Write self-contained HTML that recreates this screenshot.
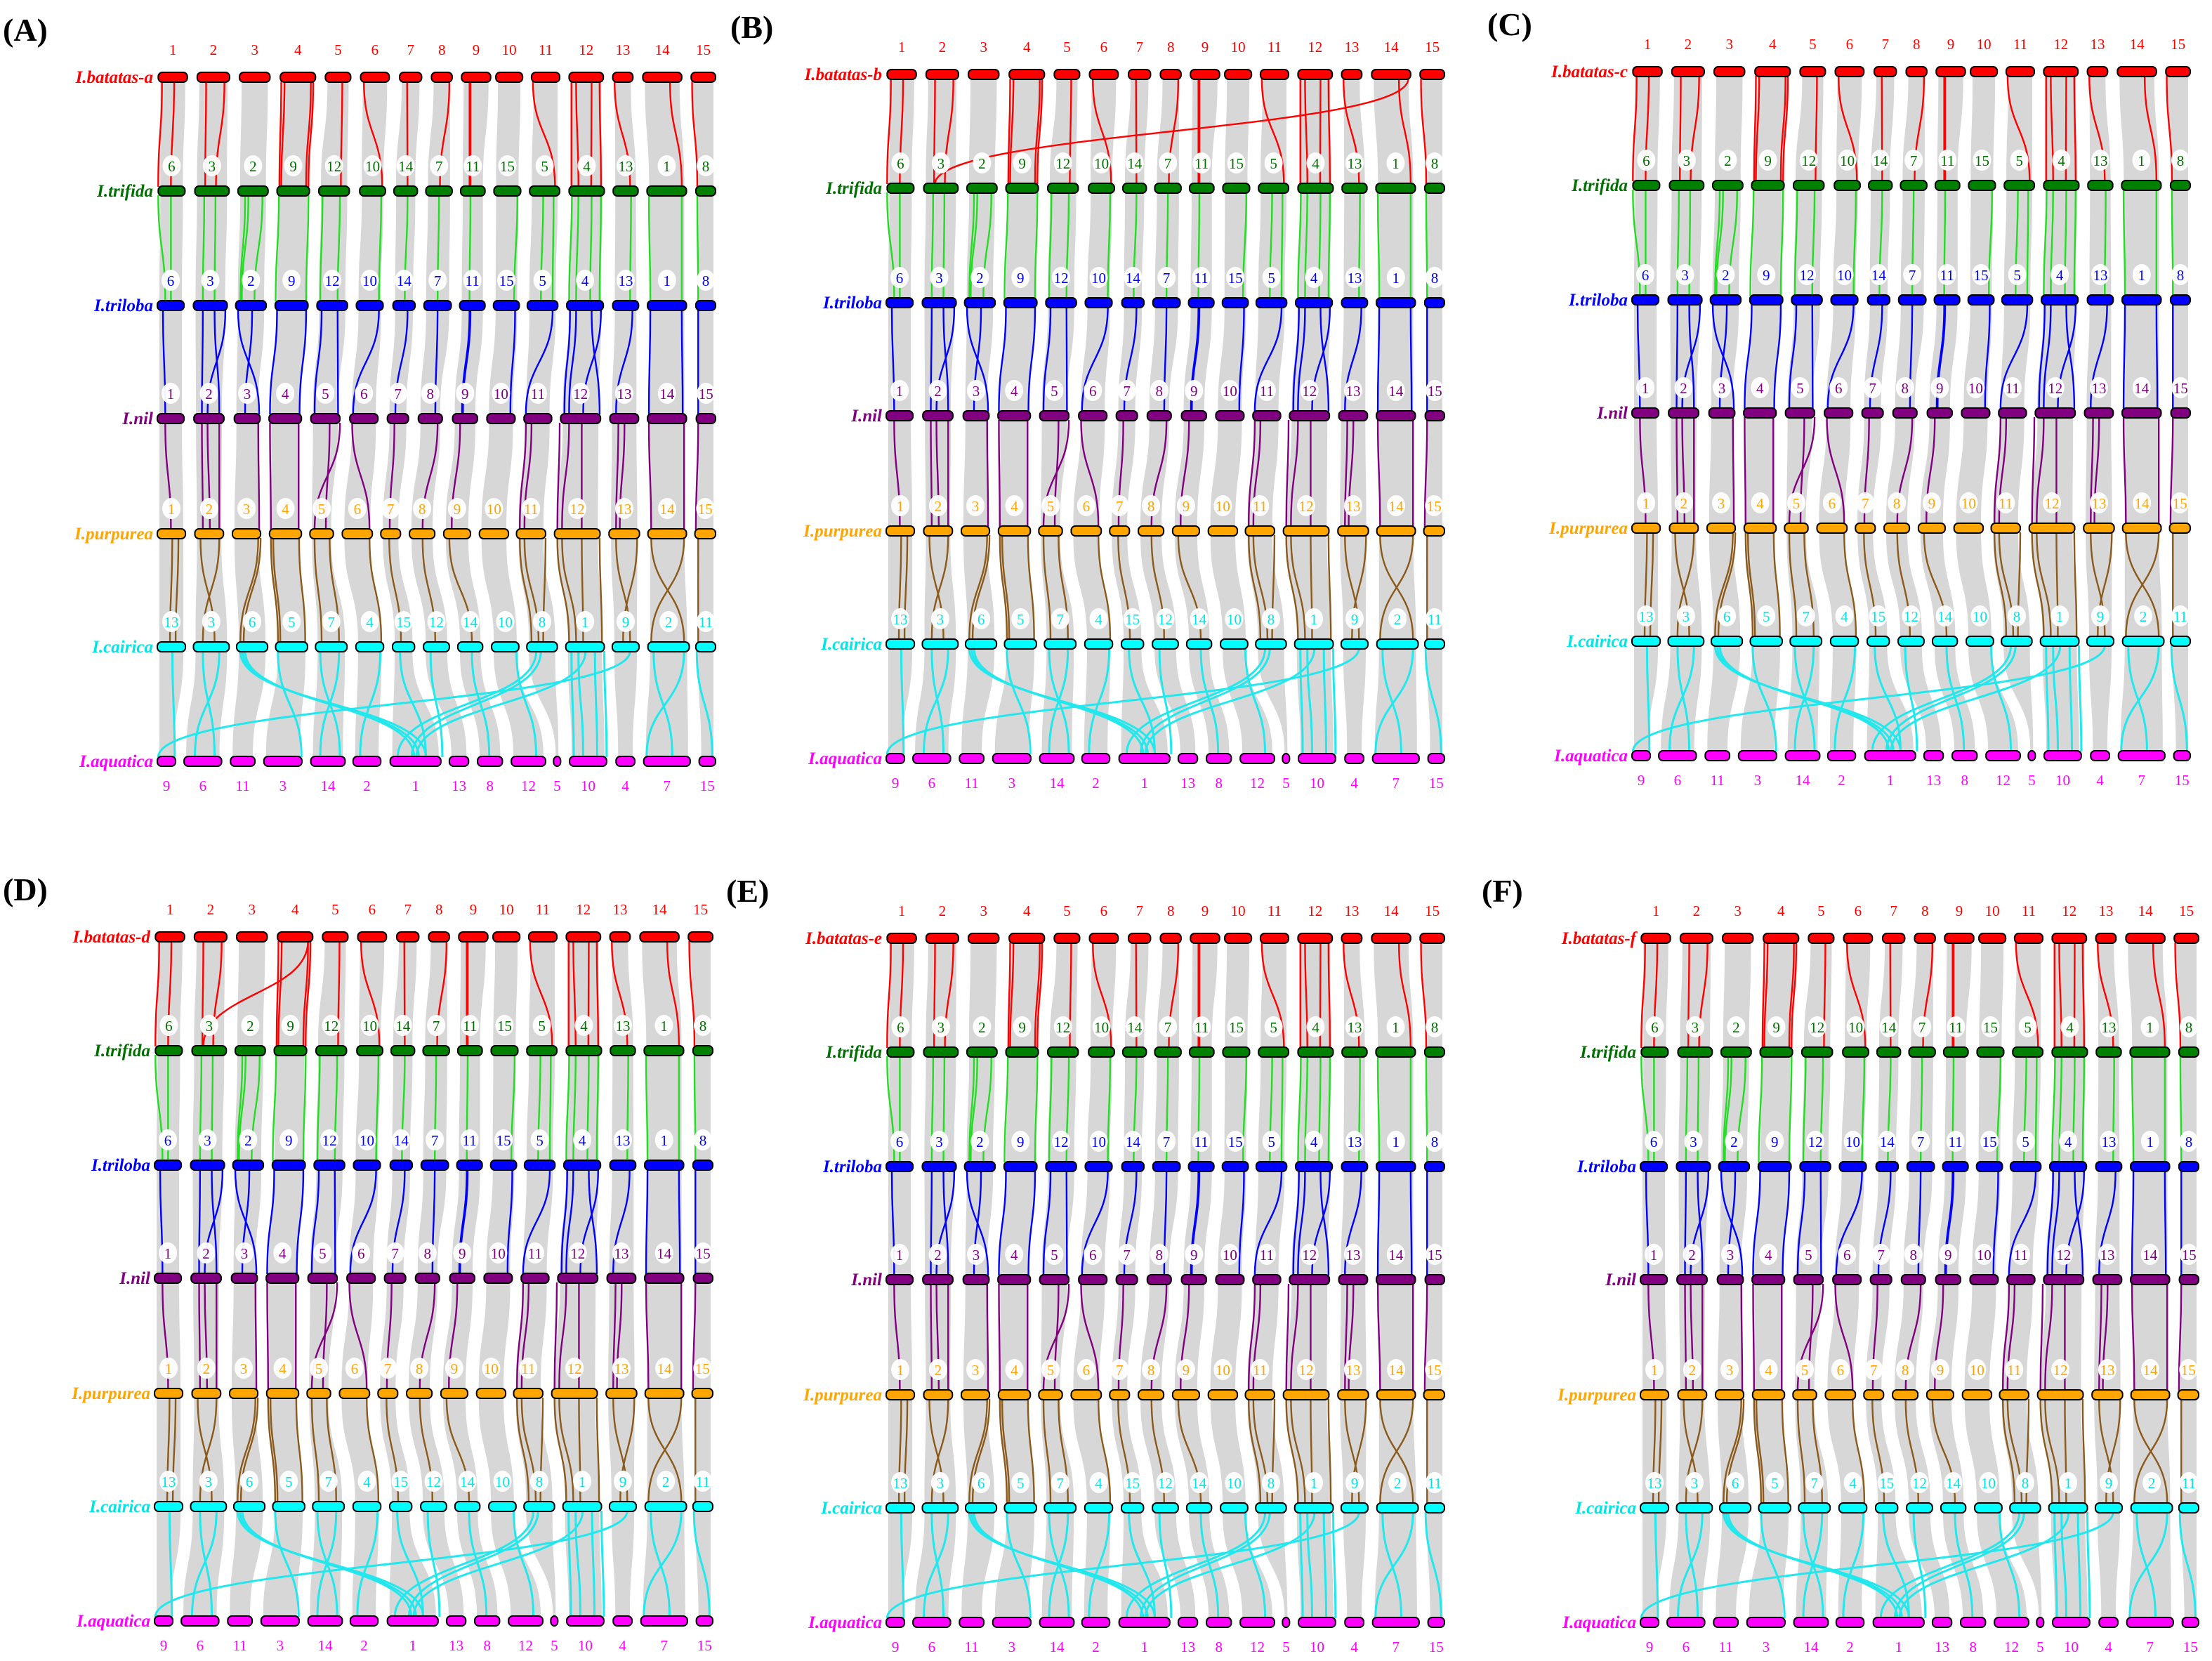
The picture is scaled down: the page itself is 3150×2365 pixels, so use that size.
<!DOCTYPE html>
<html><head><meta charset="utf-8">
<style>
html,body{margin:0;padding:0;background:#fff;}
svg{display:block;}
text{font-family:"Liberation Serif",serif;}
</style></head>
<body>
<svg id="fig" width="3150" height="2365" viewBox="0 0 3150 2365" xmlns="http://www.w3.org/2000/svg"></svg>
<script>
// ---- data ----
const genomes = ["I.batatas","I.trifida","I.triloba","I.nil","I.purpurea","I.cairica","I.aquatica"];
const genomeColors = ["#ff0000","#008000","#0000ff","#800080","#ffa500","#00ffff","#ff00ff"];
const labelColors = ["#ff0000","#007000","#0000ff","#800080","#ffa500","#00e5e5","#ff00ff"];
const lineColors = ["#ff0000","#22dd22","#0000ff","#800080","#8b5a1a","#22e8ee"];
const chromNames = [
 [1,2,3,4,5,6,7,8,9,10,11,12,13,14,15],
 [6,3,2,9,12,10,14,7,11,15,5,4,13,1,8],
 [6,3,2,9,12,10,14,7,11,15,5,4,13,1,8],
 [1,2,3,4,5,6,7,8,9,10,11,12,13,14,15],
 [1,2,3,4,5,6,7,8,9,10,11,12,13,14,15],
 [13,3,6,5,7,4,15,12,14,10,8,1,9,2,11],
 [9,6,11,3,14,2,1,13,8,12,5,10,4,7,15]
];
// chromosome spans in genome-coordinate units (start,end)
const chromSpans = [
 [[335,397],[418,487],[508,573],[595,670],[691,745],[766,827],[849,896],[917,961],[981,1043],[1054,1111],[1130,1190],[1210,1283],[1303,1346],[1367,1450],[1470,1522]],
 [[335,392],[413,486],[505,569],[588,657],[677,742],[764,819],[837,887],[905,961],[979,1031],[1050,1107],[1126,1190],[1210,1285],[1304,1357],[1376,1460],[1480,1522]],
 [[333,390],[410,482],[500,565],[584,654],[673,738],[757,814],[835,882],[901,959],[977,1031],[1049,1104],[1121,1186],[1205,1283],[1303,1358],[1377,1460],[1480,1522]],
 [[333,390],[411,475],[497,552],[571,640],[660,722],[743,803],[823,868],[889,940],[962,1015],[1035,1095],[1114,1173],[1192,1277],[1297,1358],[1377,1460],[1481,1522]],
 [[333,393],[413,474],[493,553],[572,640],[658,708],[727,791],[809,851],[870,924],[943,1000],[1019,1081],[1098,1160],[1179,1276],[1295,1360],[1378,1460],[1478,1522]],
 [[333,393],[410,486],[502,568],[585,653],[670,737],[756,815],[834,881],[900,955],[973,1026],[1045,1103],[1120,1185],[1203,1285],[1302,1359],[1378,1466],[1480,1522]],
 [[333,372],[390,470],[489,541],[560,641],[660,733],[750,809],[829,937],[955,996],[1015,1068],[1087,1160],[1177,1192],[1211,1290],[1310,1350],[1369,1468],[1487,1522]]
];
// highlighted syntenic links between consecutive genomes [fromX, toX]
const links0 = [[343,335],[369,362],[437,435],[476,458],[597,593],[604,597],[665,655],[660,650],[727,724],[773,812],[865,866],[955,935],[998,998],[1000,1000],[1133,1180],[1215,1215],[1225,1230],[1258,1257],[1275,1278],[1307,1340],[1425,1450],[1472,1483]];
const links1 = [[335,350],[362,362],[433,430],[457,455],[520,510],[527,513],[557,540],[592,585],[655,650],[685,680],[722,717],[810,805],[866,860],[933,930],[1000,998],[1100,1093],[1155,1150],[1177,1175],[1216,1210],[1230,1225],[1258,1255],[1278,1275],[1342,1340],[1380,1383],[1450,1450],[1483,1485]];
const links2 = [[345,350],[430,428],[455,465],[478,440],[505,550],[535,520],[588,573],[650,636],[683,668],[717,718],[805,750],[866,840],[930,925],[998,982],[1000,984],[1095,1085],[1175,1118],[1212,1200],[1225,1210],[1258,1275],[1278,1240],[1345,1310],[1383,1380],[1450,1452],[1485,1485]];
const links3 = [[350,362],[428,430],[440,445],[465,465],[548,550],[573,575],[634,634],[722,668],[700,692],[748,785],[838,828],[930,898],[978,960],[1118,1105],[1130,1115],[1190,1185],[1210,1195],[1237,1237],[1328,1318],[1315,1310],[1380,1385],[1455,1455],[1485,1480]];
const links4 = [[365,360],[378,372],[425,455],[465,430],[548,510],[553,517],[575,590],[580,595],[635,648],[668,683],[700,720],[785,810],[827,852],[898,925],[955,1003],[1105,1130],[1115,1145],[1160,1155],[1185,1210],[1195,1225],[1237,1240],[1275,1280],[1310,1340],[1355,1325],[1385,1455],[1455,1385],[1485,1485]];
const links5 = [[365,370],[430,455],[465,413],[510,905],[515,890],[520,880],[590,640],[680,722],[720,680],[808,765],[850,905],[915,940],[1003,1040],[1098,1140],[1140,845],[1150,875],[1215,1220],[1230,1240],[1245,885],[1265,1270],[1285,1290],[1340,335],[1390,1430],[1455,1375],[1482,1515]];
const allLinks = [links0,links1,links2,links3,links4,links5];
// panel-specific extra red links (from batatas to trifida)
const extraB = [[1445,437]];
const extraD = [[660,437]];
const panelLetters = ["A","B","C","D","E","F"];
const panelSuffix = ["a","b","c","d","e","f"];

// ---- layout ----
const panelsLayout = [
 {px:224,py:0,lx:4},{px:1262,py:-4,lx:1040},{px:2324,py:-8,lx:2118},
 {px:220,py:1224,lx:4},{px:1262,py:1226,lx:1034},{px:2336,py:1226,lx:2110}
];
const rowY = [110,272,435,596,760,921,1084];
const U0 = 333, U1 = 1522, W = 795;
const NS = "http://www.w3.org/2000/svg";
const svg = document.getElementById("fig");
function mk(tag, attrs, parent){
  const e = document.createElementNS(NS, tag);
  for (const k in attrs) e.setAttribute(k, attrs[k]);
  (parent||svg).appendChild(e);
  return e;
}
function curve(x1,y1,x2,y2){
  const m=(y1+y2)/2;
  return `M${x1},${y1} C${x1},${m} ${x2},${m} ${x2},${y2}`;
}

panelLetters.forEach((L, p) => {
  const lay = panelsLayout[p];
  const xs = u => lay.px + (u - U0) * W / (U1 - U0);
  const ys = r => rowY[r] + lay.py;
  const g = mk("g", {});
  
  

  // panel letter
  const pl = mk("text", {x: lay.lx, y: ys(0) - 52, "font-size": 46, "font-weight": "bold", fill: "#000"}, g);
  pl.textContent = "(" + L + ")";
  
  

  // gray ribbons
  const rib = mk("g", {fill: "#d4d4d4", opacity: "0.92"}, g);
  
  
  for (let r = 0; r < 6; r++) {
    for (let i = 0; i < 15; i++) {
      const a = chromSpans[r][i], b = chromSpans[r+1][i];
      const y1 = ys(r) + 7, y2 = ys(r+1) - 7, m = (y1 + y2) / 2;
      const ax1 = xs(a[0]) + 3, ax2 = xs(a[1]) - 3, bx1 = xs(b[0]) + 3, bx2 = xs(b[1]) - 3;
      const d = `M${ax1},${y1} C${ax1},${m} ${bx1},${m} ${bx1},${y2} L${bx2},${y2} C${bx2},${m} ${ax2},${m} ${ax2},${y1} Z`;
      const pth = mk("path", {d}, rib);
      
      
    }
  }

  // colored links
  for (let r = 0; r < 6; r++) {
    let set = allLinks[r];
    if (r === 0 && L === "B") set = set.concat(extraB);
    if (r === 0 && L === "D") set = set.concat(extraD);
    const lg = mk("g", {fill: "none", stroke: lineColors[r], "stroke-width": r === 5 ? 3 : 2.4}, g);
    
    
    set.forEach(([u1, u2]) => {
      const pth = mk("path", {d: curve(xs(u1), ys(r) + 6, xs(u2), ys(r+1) - 6)}, lg);
      
      
    });
  }

  // chromosomes, labels
  for (let r = 0; r < 7; r++) {
    const y = ys(r);
    const name = r === 0 ? genomes[0] + "-" + panelSuffix[p] : genomes[r];
    const gl = mk("text", {x: lay.px - 6, y: y + 8, "font-size": 25, "font-weight": "bold", "font-style": "italic", "text-anchor": "end", fill: labelColors[r]}, g);
    gl.textContent = name;
    
    
    for (let i = 0; i < 15; i++) {
      const s = chromSpans[r][i];
      const x1 = xs(s[0]), x2 = xs(s[1]);
      const bar = mk("rect", {x: x1, y: y - 7, width: x2 - x1, height: 14, rx: 6, fill: genomeColors[r], stroke: "#000", "stroke-width": 2}, g);
      
      
      const cx = (x1 + x2) / 2;
      let ty;
      if (r === 0) ty = y - 32;
      else if (r === 6) ty = y + 42;
      else {
        ty = y - 28;
        const c = mk("ellipse", {cx, cy: ty - 8, rx: 13, ry: 15, fill: "#fff", opacity: "0.95"}, g);
        
        
      }
      const t = mk("text", {x: cx, y: ty, "font-size": 21, "text-anchor": "middle", fill: labelColors[r]}, g);
      t.textContent = chromNames[r][i];
      
      
    }
  }
});
</script>
</body></html>
